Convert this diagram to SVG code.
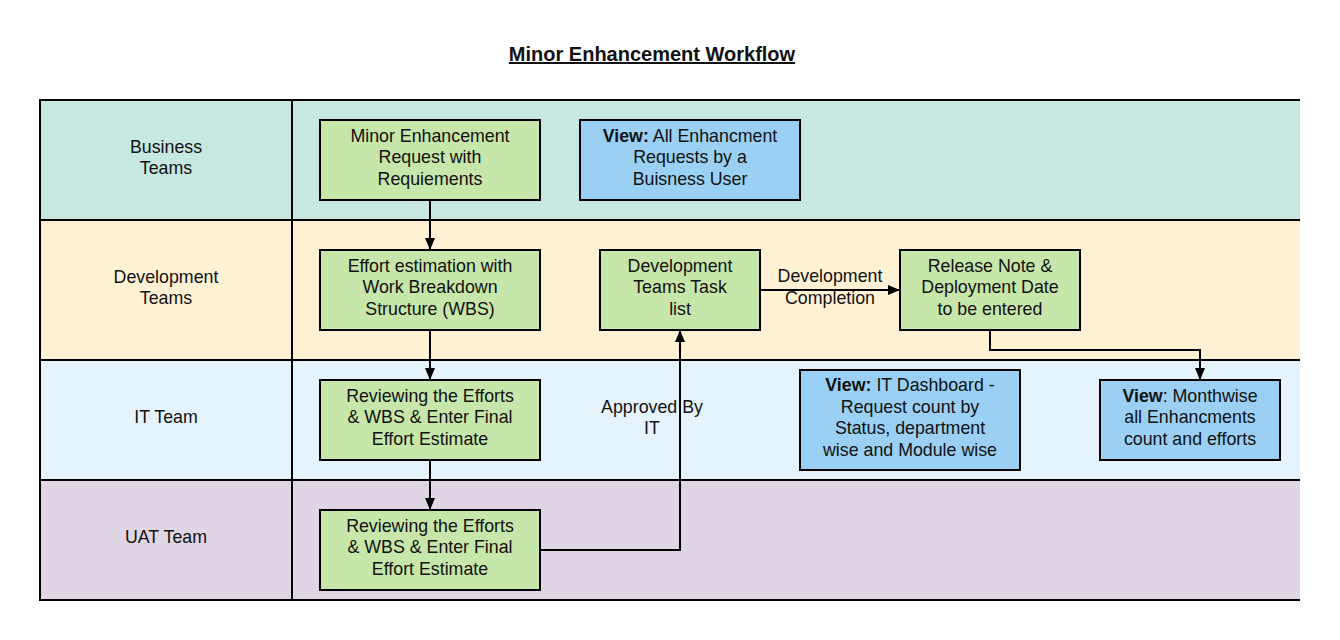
<svg xmlns="http://www.w3.org/2000/svg" width="1340" height="640" viewBox="0 0 1340 640">
<defs>
<marker id="ah" viewBox="0 0 12 12" refX="12" refY="6" markerWidth="12" markerHeight="12" markerUnits="userSpaceOnUse" orient="auto">
<path d="M0,1 L12,6 L0,11 Z" fill="#000"/>
</marker>
</defs>
<style>
text{font-family:"Liberation Sans",Arial,sans-serif;font-size:17.8px;fill:#111;text-anchor:middle}
.title{font-size:20px;font-weight:bold;text-decoration:underline}
.lane{stroke:none}
.ln{stroke:#000;stroke-width:2;fill:none}
.g{fill:#c7e6a9;stroke:#000;stroke-width:2}
.b{fill:#99d0f3;stroke:#000;stroke-width:2}
.c{stroke:#000;stroke-width:2;fill:none}
tspan.bd{font-weight:bold}
</style>
<rect width="1340" height="640" fill="#fff"/>
<text class="title" x="652" y="61">Minor Enhancement Workflow</text>
<g id="lanes">
<rect class="lane" x="40" y="100" width="1260" height="120" fill="#c7e8e0"/>
<rect class="lane" x="40" y="220" width="1260" height="140" fill="#fff2d4"/>
<rect class="lane" x="40" y="360" width="1260" height="120" fill="#e5f3fc"/>
<rect class="lane" x="40" y="480" width="1260" height="120" fill="#e0d5e4"/>
<path class="ln" d="M1300,100 H40 V600 H1300 M40,220 H1300 M40,360 H1300 M40,480 H1300 M292,100 V600"/>
<text x="166" y="153">Business</text><text x="166" y="174">Teams</text>
<text x="166" y="283">Development</text><text x="166" y="304">Teams</text>
<text x="166" y="423">IT Team</text>
<text x="166" y="543">UAT Team</text>
</g>
<g id="connectors">
<path class="c" d="M430,200 V250" marker-end="url(#ah)"/>
<path class="c" d="M430,330 V380" marker-end="url(#ah)"/>
<path class="c" d="M430,460 V510" marker-end="url(#ah)"/>
<path class="c" d="M540,550 H680 V330" marker-end="url(#ah)" stroke="#333"/>
<path class="c" d="M760,290 H900" marker-end="url(#ah)"/>
<path class="c" d="M990,330 V350 H1200 V380" marker-end="url(#ah)"/>
<text x="652" y="413">Approved By</text><text x="652" y="434">IT</text>
<text x="830" y="282">Development</text><text x="830" y="304">Completion</text>
</g>
<g id="n1"><rect class="g" x="320" y="120" width="220" height="80"/>
<text x="430" y="142">Minor Enhancement</text><text x="430" y="163">Request with</text><text x="430" y="185">Requiements</text></g>
<g id="n2"><rect class="b" x="580" y="120" width="220" height="80"/>
<text x="690" y="142"><tspan class="bd">View:</tspan> All Enhancment</text><text x="690" y="163">Requests by a</text><text x="690" y="185">Buisness User</text></g>
<g id="n3"><rect class="g" x="320" y="250" width="220" height="80"/>
<text x="430" y="272">Effort estimation with</text><text x="430" y="293">Work Breakdown</text><text x="430" y="315">Structure (WBS)</text></g>
<g id="n4"><rect class="g" x="600" y="250" width="160" height="80"/>
<text x="680" y="272">Development</text><text x="680" y="293">Teams Task</text><text x="680" y="315">list</text></g>
<g id="n5"><rect class="g" x="900" y="250" width="180" height="80"/>
<text x="990" y="272">Release Note &amp;</text><text x="990" y="293">Deployment Date</text><text x="990" y="315">to be entered</text></g>
<g id="n6"><rect class="g" x="320" y="380" width="220" height="80"/>
<text x="430" y="402">Reviewing the Efforts</text><text x="430" y="423">&amp; WBS &amp; Enter Final</text><text x="430" y="445">Effort Estimate</text></g>
<g id="n7"><rect class="b" x="800" y="370" width="220" height="100"/>
<text x="910" y="391"><tspan class="bd">View:</tspan> IT Dashboard -</text><text x="910" y="413">Request count by</text><text x="910" y="434">Status, department</text><text x="910" y="456">wise and Module wise</text></g>
<g id="n8"><rect class="b" x="1100" y="380" width="180" height="80"/>
<text x="1190" y="402"><tspan class="bd">View</tspan>: Monthwise</text><text x="1190" y="423">all Enhancments</text><text x="1190" y="445">count and efforts</text></g>
<g id="n9"><rect class="g" x="320" y="510" width="220" height="80"/>
<text x="430" y="532">Reviewing the Efforts</text><text x="430" y="553">&amp; WBS &amp; Enter Final</text><text x="430" y="575">Effort Estimate</text></g>
</svg>
